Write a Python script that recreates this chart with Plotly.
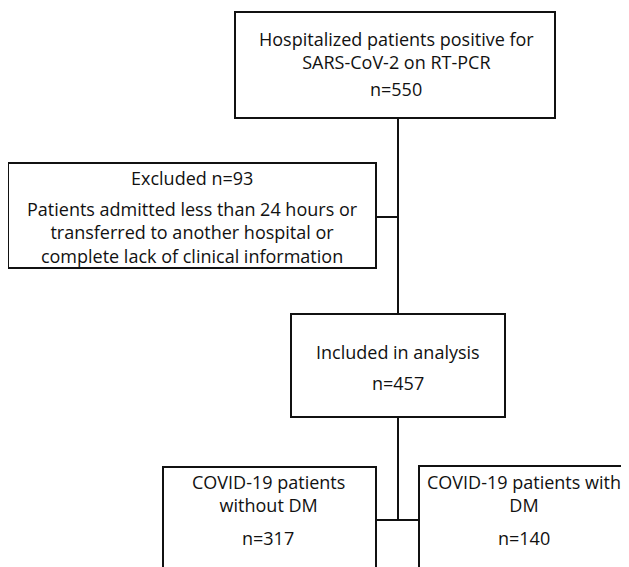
import plotly.graph_objects as go

# ---- data ----
stage_titles = [
    ["Hospitalized patients positive for", "SARS-CoV-2 on RT-PCR"],
    ["Excluded n=93"],
    ["Included in analysis"],
    ["COVID-19 patients", "without DM"],
    ["COVID-19 patients with", "DM"],
]
stage_counts = [550, 93, 457, 317, 140]
excluded_reason = ["Patients admitted less than 24 hours or",
                   "transferred to another hospital or",
                   "complete lack of clinical information"]

W, H = 629, 567
PAGE_OFFSET = 8  # default body margin of the html page
FONT = dict(family="'Open Sans', sans-serif", size=18, color="#111111")
LINE = dict(color="#111111", width=2)

# ---- layout (pixel positions) ----
boxes = [  # x0, y0, x1, y1
    (235, 12, 555, 118),
    (8, 163, 376, 268),
    (291, 314, 505, 417),
    (163, 467, 376, 640),
    (419, 466, 633, 640),
]
# (x_center, y_center of title block, y_center of second block)
text_pos = [
    (396, 50, 89),
    (192, 178, 232),
    (398, 352, 383),
    (268, 493, 538),
    (524, 493, 538),
]
connectors = [
    (398, 118, 398, 314),
    (376, 217, 398, 217),
    (398, 417, 398, 520),
    (376, 520, 419, 520),
]

fig = go.Figure()
shapes = []
for (x0, y0, x1, y1) in boxes:
    shapes.append(dict(type="rect", xref="x", yref="y", x0=x0, y0=y0, x1=x1, y1=y1,
                       line=LINE, fillcolor="rgba(0,0,0,0)"))
for (x0, y0, x1, y1) in connectors:
    shapes.append(dict(type="line", xref="x", yref="y", x0=x0, y0=y0, x1=x1, y1=y1, line=LINE))

annotations = []
for i, (titles, count) in enumerate(zip(stage_titles, stage_counts)):
    xc, y_title, y_second = text_pos[i]
    second = "<br>".join(excluded_reason) if i == 1 else f"n={count}"
    for txt, y in (("<br>".join(titles), y_title), (second, y_second)):
        annotations.append(dict(x=xc, y=y, xref="x", yref="y", text=txt, showarrow=False,
                                xanchor="center", yanchor="middle", align="center", font=FONT))

fig.update_layout(
    width=W, height=H, margin=dict(l=0, r=0, t=0, b=0),
    paper_bgcolor="white", plot_bgcolor="white",
    xaxis=dict(range=[PAGE_OFFSET, W + PAGE_OFFSET], visible=False, fixedrange=True),
    yaxis=dict(range=[H + PAGE_OFFSET, PAGE_OFFSET], visible=False, fixedrange=True),
    shapes=shapes, annotations=annotations, showlegend=False,
)
fig.write_html("out.html")
